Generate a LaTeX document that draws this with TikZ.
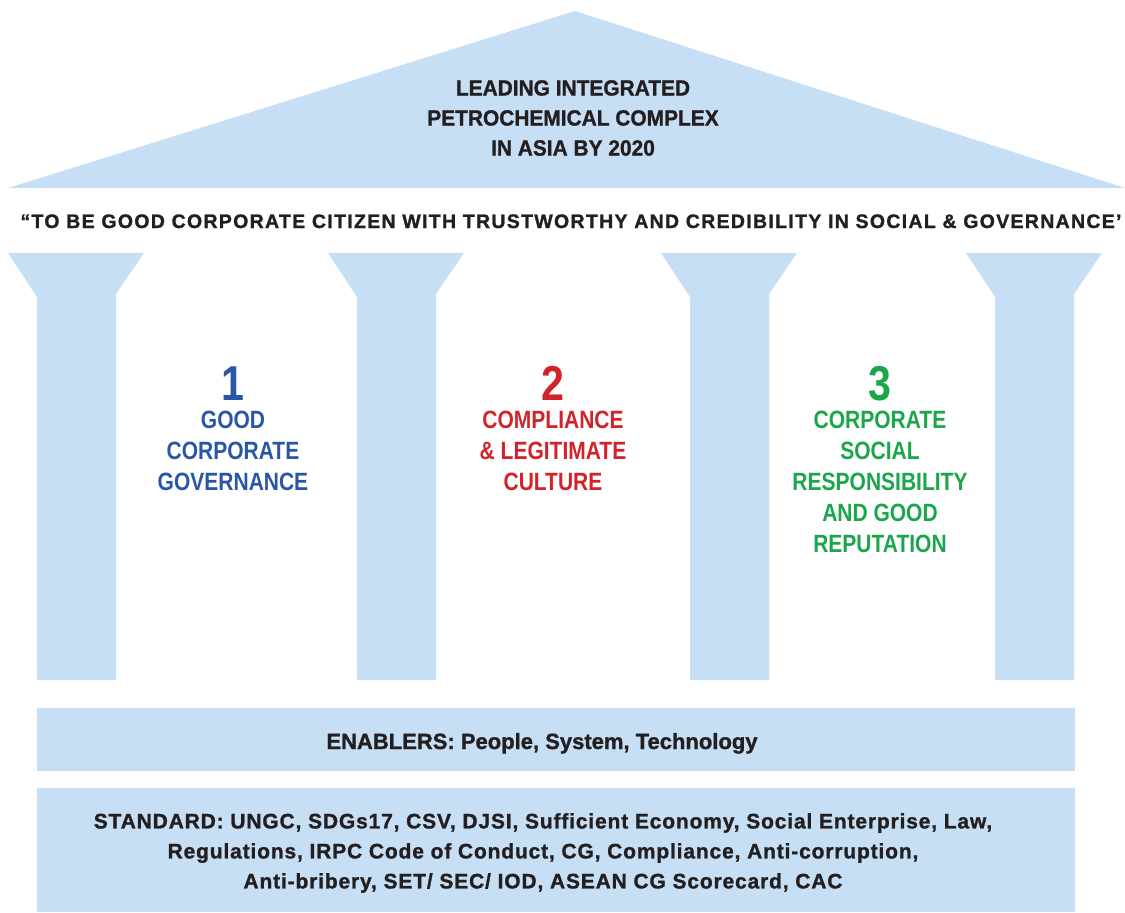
\documentclass[tikz,border=0pt]{standalone}
\usepackage{fontspec}
\setmainfont{Liberation Sans}
\newfontfamily\inkfont{Liberation Sans}[FakeBold=1.2]
\newfontfamily\pillarfont{Liberation Sans}[FakeStretch=0.84]
\usetikzlibrary{positioning}
\definecolor{irpcSky}{HTML}{C7DFF4}
\definecolor{irpcInk}{HTML}{231F20}
\definecolor{irpcBlue}{HTML}{2A56A7}
\definecolor{irpcRed}{HTML}{D1232A}
\definecolor{irpcGreen}{HTML}{1AA64B}
\begin{document}
\begin{tikzpicture}[x=1pt,y=-1pt,line join=round]
\path[fill=white] (0,0) rectangle (1125,911);
\tikzset{slab/.style={fill=irpcSky,inner sep=0pt,minimum width=1038pt,anchor=north west},inkText/.style={text=irpcInk,align=center,inner sep=0pt},pillarNum/.style={font=\pillarfont\bfseries\fontsize{49}{49}\selectfont,inner sep=0pt,anchor=base},pillarText/.style={font=\pillarfont\bfseries\fontsize{25}{31}\selectfont,align=center,inner sep=0pt,anchor=north}}
% roof
\path[fill=irpcSky] (8,188) -- (575,11) -- (1125,188) -- cycle;
\node[inkText,anchor=north,font=\inkfont\bfseries\addfontfeatures{FakeStretch=0.95}\fontsize{22}{30}\selectfont] (vision) at (573,80) {LEADING INTEGRATED\\PETROCHEMICAL COMPLEX\\IN ASIA BY 2020};
\node[inkText,anchor=base,font=\inkfont\bfseries\addfontfeatures{LetterSpace=6.7}\fontsize{19.5}{24}\selectfont] (motto) at (571,228) {“TO BE GOOD CORPORATE CITIZEN WITH TRUSTWORTHY AND CREDIBILITY IN SOCIAL \& GOVERNANCE’};
% pillars
\foreach \px in {8,328,661,966}
  \path[fill=irpcSky] (\px,253) -- ++(136,0) -- ++(-28,41) |- ++(-79,386) -- ++(0,-383) -- cycle;
\node[pillarNum,text=irpcBlue] (numOne) at (233,400) {1};
\node[pillarText,text=irpcBlue,below=11pt of numOne.base] (pillarOne) {GOOD\\CORPORATE\\GOVERNANCE};
\node[pillarNum,text=irpcRed] (numTwo) at (553,400) {2};
\node[pillarText,text=irpcRed,below=11pt of numTwo.base] (pillarTwo) {COMPLIANCE\\\& LEGITIMATE\\CULTURE};
\node[pillarNum,text=irpcGreen] (numThree) at (880,400) {3};
\node[pillarText,text=irpcGreen,below=11pt of numThree.base] (pillarThree) {CORPORATE\\SOCIAL\\RESPONSIBILITY\\AND GOOD\\REPUTATION};
% base slabs
\node[slab,minimum height=63pt] (enablers) at (37,708) {};
\node[inkText,anchor=base,font=\inkfont\bfseries\fontsize{22}{30}\selectfont] (enablersText) at (542,749) {ENABLERS: People, System, Technology};
\node[slab,minimum height=124pt] (standard) at (37,788) {};
\node[inkText,anchor=north,font=\inkfont\bfseries\addfontfeatures{LetterSpace=4}\fontsize{21}{30}\selectfont] (standardText) at (543,813) {STANDARD: UNGC, SDGs17, CSV, DJSI, Sufficient Economy, Social Enterprise, Law,\\Regulations, IRPC Code of Conduct, CG, Compliance, Anti-corruption,\\Anti-bribery, SET/ SEC/ IOD, ASEAN CG Scorecard, CAC};
\end{tikzpicture}
\end{document}
